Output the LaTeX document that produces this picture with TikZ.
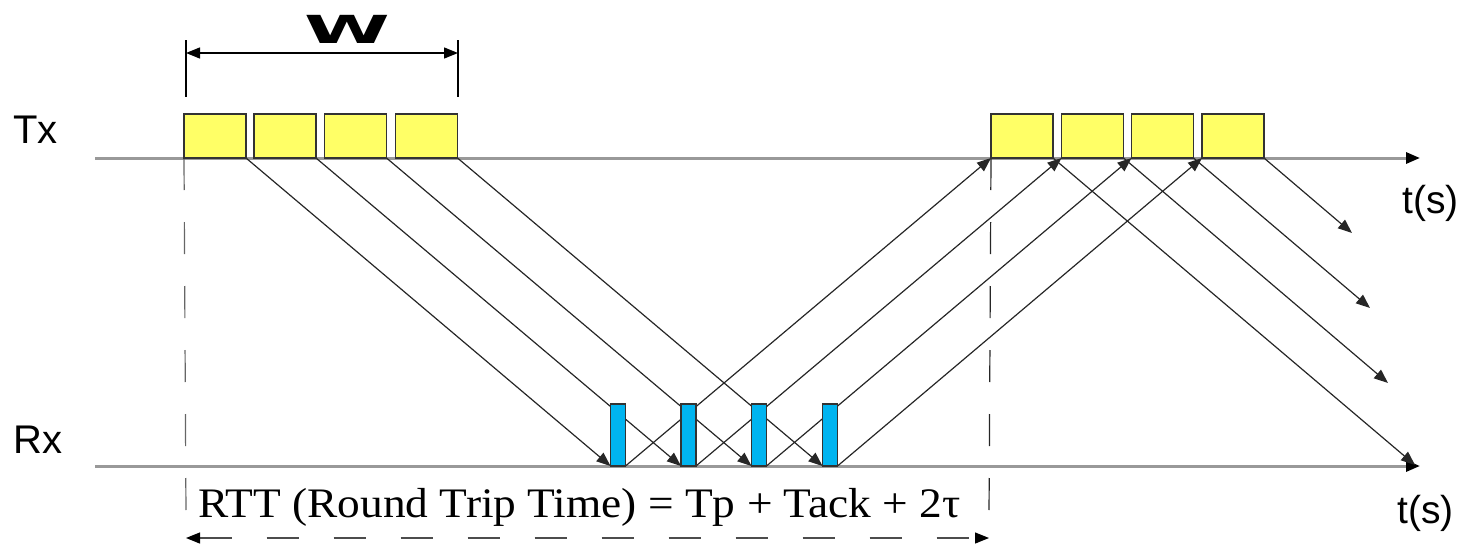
\documentclass[tikz,border=0pt]{standalone}
\usepackage{fontspec}
\setmainfont{Liberation Sans}
\newfontfamily\rttfont{Liberation Serif}
\newfontfamily\wfont{DejaVu Sans}
\usetikzlibrary{arrows.meta,backgrounds}
\definecolor{pktyellow}{HTML}{FFFF66}
\definecolor{ackblue}{HTML}{00B4F0}
\definecolor{axisgray}{HTML}{999999}

\begin{document}
\begin{tikzpicture}[x=1pt,y=-1pt,>={Triangle[length=14pt,width=11pt]},
  pkt/.style={draw=black!80,line width=1.2pt,fill=pktyellow,minimum width=62pt,minimum height=44pt,inner sep=0pt,outer sep=0pt},
  ack/.style={draw=black!80,line width=1.2pt,fill=ackblue,minimum width=15pt,minimum height=62pt,inner sep=0pt,outer sep=0pt},
  timeline/.style={draw=axisgray,line width=3pt,-{Triangle[length=14pt,width=11pt,color=black]}},
  sig/.style={draw=black!85,line width=1.2pt},
  guide/.style={draw=black!60,line width=1.2pt,dash pattern=on 32pt off 32pt},
  lbl/.style={inner sep=0pt,font=\fontsize{40}{48}\selectfont}]
  \useasboundingbox (0,0) rectangle (1472,549);

  % time axes
  \coordinate (txs) at (95,158);
  \coordinate (txe) at (1420,158);
  \coordinate (rxs) at (95,466);
  \coordinate (rxe) at (1420,466);
  \node[lbl,anchor=base west] (tx) at (13,143) {Tx};
  \node[lbl,anchor=base west] (rx) at (13,453) {Rx};
  \node[lbl,anchor=base west,font=\fontsize{39}{46}\selectfont] (ttx) at (1402,213) {t(s)};
  \node[lbl,anchor=base west,font=\fontsize{39}{46}\selectfont] (trx) at (1397,523) {t(s)};

  % first window
  \node[pkt] (t1) at (215,136) {};
  \node[pkt] (t2) at (285,136) {};
  \node[pkt] (t3) at (355.5,136) {};
  \node[pkt] (t4) at (426.5,136) {};

  % acks at receiver
  \node[ack] (b1) at (618,435) {};
  \node[ack] (b2) at (688.5,435) {};
  \node[ack] (b3) at (759,435) {};
  \node[ack] (b4) at (830,435) {};

  % next window
  \node[pkt] (s1) at (1022,136) {};
  \node[pkt] (s2) at (1092.5,136) {};
  \node[pkt] (s3) at (1162.5,136) {};
  \node[pkt] (s4) at (1233,136) {};

  \coordinate (e1) at (1415,465);
  \coordinate (e2) at (1388,383);
  \coordinate (e3) at (1370,308);
  \coordinate (e4) at (1352,233);

  % window size
  \coordinate (wl) at (186,53);
  \coordinate (wr) at (458,53);
  \node[font=\wfont\fontsize{42}{50}\selectfont\bfseries,inner sep=0pt,anchor=base] (w) at (347,43) {\scalebox{1.85}[0.92]{W}};
  \draw[line width=1.3pt] (186,40) -- (186,97);
  \draw[line width=1.3pt] (458,40) -- (458,97);
  \draw[line width=1.3pt,<->] (wl) -- (wr);

  % round trip time
  \coordinate (gl) at (186,515);
  \coordinate (gr) at (989,515);
  \coordinate (rl) at (186,538);
  \coordinate (rr) at (989,538);
  \node[inner sep=0pt,anchor=base west,font=\rttfont\fontsize{42}{48}\selectfont] (rtt) at (198,517) {\scalebox{1.08}[1]{RTT (Round Trip Time) = Tp + Tack + 2τ}};
  \draw[black!70,line width=1.2pt,dash pattern=on 32pt off 35pt,{Triangle[length=14pt,width=11pt,color=black]}-{Triangle[length=14pt,width=11pt,color=black]}] (rl) -- (rr);

  \begin{pgfonlayer}{background}
    \draw[timeline] (txs) -- (txe);
    \draw[timeline] (rxs) -- (rxe);
    \draw[guide] (t1.south west) -- (gl);
    \draw[guide,draw=black!85] (s1.south west) -- (gr);
    \draw[sig,->] (t1.south east) -- (b1.south west);
    \draw[sig,->] (t2.south east) -- (b2.south west);
    \draw[sig,->] (t3.south east) -- (b3.south west);
    \draw[sig,->] (t4.south east) -- (b4.south west);
    \draw[sig,->] (b1.south east) -- (s1.south west);
    \draw[sig,->] (b2.south east) -- (s2.south west);
    \draw[sig,->] (b3.south east) -- (s3.south west);
    \draw[sig,->] (b4.south east) -- (s4.south west);
    \draw[sig,->] (s1.south east) -- (e1);
    \draw[sig,->] (s2.south east) -- (e2);
    \draw[sig,->] (s3.south east) -- (e3);
    \draw[sig,->] (s4.south east) -- (e4);
  \end{pgfonlayer}
\end{tikzpicture}
\end{document}
